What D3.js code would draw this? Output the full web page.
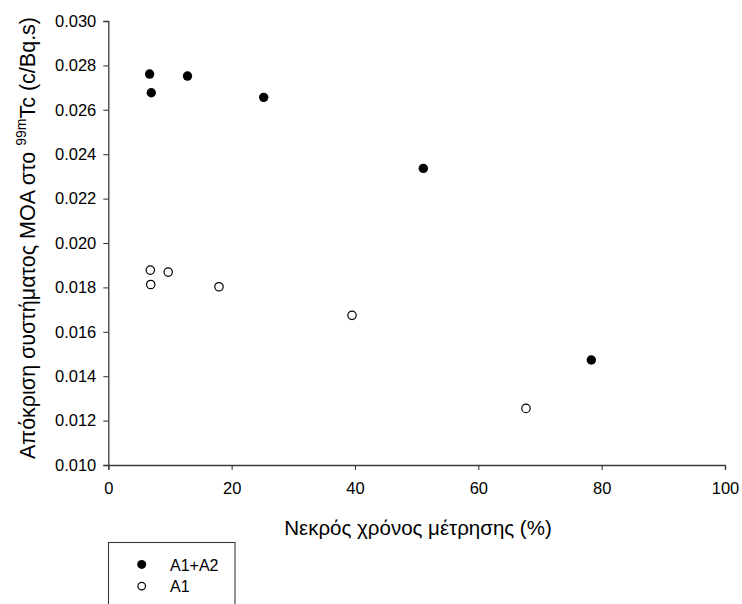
<!DOCTYPE html>
<html>
<head>
<meta charset="utf-8">
<script src="https://cdn.jsdelivr.net/npm/d3@7/dist/d3.min.js"></script>
<style>
  html, body { margin: 0; padding: 0; background: #fff; }
  svg { display: block; font-family: "Liberation Sans", Arial, sans-serif; }
</style>
</head>
<body>
<svg id="chart" width="742" height="604"></svg>
<script>
// Dead time (%) and system response (c/Bq.s) for the two detector configurations
const deadTimeA1A2 = [6.7, 6.97, 12.84, 25.2, 51.08, 78.32];
const responseA1A2 = [0.02761, 0.02677, 0.02752, 0.02656, 0.02336, 0.01473];
const deadTimeA1 = [6.81, 6.88, 9.71, 17.95, 39.52, 67.73];
const responseA1 = [0.01878, 0.01813, 0.01869, 0.01803, 0.01674, 0.01255];

const xTicks = [0, 20, 40, 60, 80, 100];
const yTicks = [0.010, 0.012, 0.014, 0.016, 0.018, 0.020, 0.022, 0.024, 0.026, 0.028, 0.030];
const seriesNames = ["A1+A2", "A1"];

const svg = d3.select("#chart");
const plotLeft = 108.3, plotRight = 725, plotTop = 21, plotBottom = 465;
const axisColor = "#3a3a3a";
const tickFont = "16.5px";
const titleFont = "20.5px";

const x = d3.scaleLinear().domain([0, 100]).range([plotLeft, plotRight]);
const y = d3.scaleLinear().domain([0.010, 0.030]).range([plotBottom, plotTop]);

const xAxis = svg.append("g")
  .attr("transform", `translate(0,${plotBottom})`)
  .call(d3.axisBottom(x).tickValues(xTicks).tickFormat(d3.format("d")).tickSizeOuter(0).tickSize(5).tickPadding(12));
const yAxis = svg.append("g")
  .attr("transform", `translate(${plotLeft},0)`)
  .call(d3.axisLeft(y).tickValues(yTicks).tickFormat(d3.format(".3f")).tickSizeOuter(0).tickSize(5).tickPadding(7));

[xAxis, yAxis].forEach(g => {
  g.select(".domain").attr("stroke", axisColor).attr("stroke-width", 1.3);
  g.selectAll(".tick line").attr("stroke", axisColor).attr("stroke-width", 1.1);
  g.selectAll(".tick text").attr("fill", "#000").style("font-size", tickFont)
    .style("font-family", '"Liberation Sans", Arial, sans-serif');
});

// Axis titles
svg.append("text")
  .attr("x", 418).attr("y", 535)
  .attr("text-anchor", "middle")
  .style("font-size", titleFont)
  .text("Νεκρός χρόνος μέτρησης (%)");

const yTitle = svg.append("text")
  .attr("transform", `translate(35,238) rotate(-90)`)
  .attr("text-anchor", "middle")
  .style("font-size", "21.5px");
yTitle.append("tspan").text("Απόκριση συστήματος MOA στο ");
yTitle.append("tspan").attr("dy", -9).style("font-size", "14px").text("99m");
yTitle.append("tspan").attr("dy", 9).text("Tc (c/Bq.s)");

// Data points
const pts = (xs, ys) => xs.map((v, i) => [v, ys[i]]);
svg.append("g").selectAll("circle")
  .data(pts(deadTimeA1A2, responseA1A2)).join("circle")
  .attr("cx", d => x(d[0])).attr("cy", d => y(d[1]))
  .attr("r", 4.7).attr("fill", "#000");

svg.append("g").selectAll("circle")
  .data(pts(deadTimeA1, responseA1)).join("circle")
  .attr("cx", d => x(d[0])).attr("cy", d => y(d[1]))
  .attr("r", 4.2).attr("fill", "#fff").attr("stroke", "#000").attr("stroke-width", 1.2);

// Legend
const legend = svg.append("g");
legend.append("rect")
  .attr("x", 108.5).attr("y", 542.5).attr("width", 126.5).attr("height", 80)
  .attr("fill", "#fff").attr("stroke", axisColor).attr("stroke-width", 1.1);
seriesNames.forEach((name, i) => {
  const cy = 564.4 + i * 21.7;
  const c = legend.append("circle").attr("cx", 141.7).attr("cy", cy);
  if (i === 0) c.attr("r", 4.5).attr("fill", "#000");
  else c.attr("r", 3.8).attr("fill", "#fff").attr("stroke", "#000").attr("stroke-width", 1.2);
  legend.append("text").attr("x", 170).attr("y", cy + 6.3)
    .style("font-size", "16px").text(name);
});
</script>
</body>
</html>
